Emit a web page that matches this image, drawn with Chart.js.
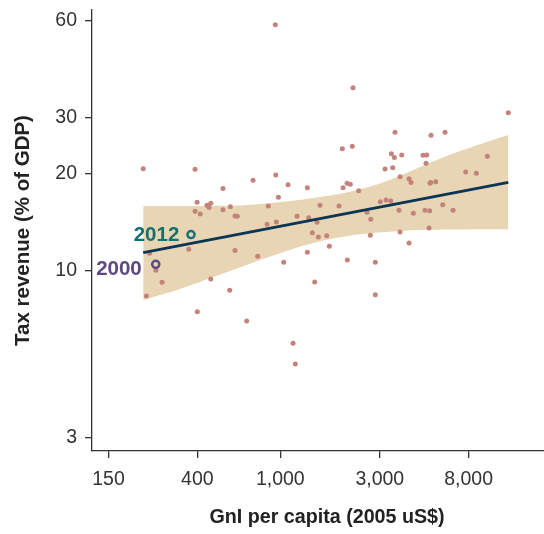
<!DOCTYPE html>
<html><head><meta charset="utf-8">
<script src="https://cdn.jsdelivr.net/npm/chart.js@4"></script>
<style>html,body{margin:0;padding:0;background:#fff}</style>
</head><body>
<canvas id="c" width="544" height="534"></canvas>
<script>
// ---- data ----
const gniPerCapita = [946,2232,12400,3549,6166,5283,1984,2214,3408,3523,3822,4834,5038,4998,9835,220,390,3179,3460,7750,8710,951,740,3751,4143,4236,5224,5263,5564,2089,2166,1089,531,1348,1999,2377,979,399,445,464,455,390,413,531,576,606,622,876,1550,1912,3017,3214,3385,3710,4345,4943,5207,6010,6735,2605,2714,1203,1368,1500,864,957,1424,1522,1669,2702,3751,5167,364,606,236,779,1348,1038,2096,2855,4143,1718,253,271,228,464,572,1462,2855,400,690,1151,1180];
const taxRevenue = [58.4,37.1,31.0,26.95,26.95,26.4,23.95,24.4,23.1,22.5,22.9,22.85,22.9,21.6,22.7,20.75,20.66,20.7,20.9,20.26,20.1,19.83,19.1,19.6,19.3,18.8,18.7,18.8,18.9,18.7,18.55,18.5,18.0,18.1,18.1,17.7,16.9,16.3,15.95,16.2,15.7,15.3,15.0,15.45,15.8,14.77,14.74,15.87,15.95,15.87,16.37,16.57,16.45,15.39,15.06,15.39,15.35,16.02,15.39,15.17,14.43,14.74,14.59,14.12,13.92,14.15,13.1,12.7,12.82,12.86,13.17,13.55,11.63,11.54,11.3,11.06,11.38,10.59,10.77,10.59,12.17,11.88,10.0,9.18,8.32,9.4,8.66,9.19,8.39,7.43,6.95,5.92,5.1];
const fitX = [220, 12400];
const fitY = [11.35, 18.8];
const bandX = [220,330,477,690,1000,1440,2240,3238,4677,6756,9770,12400];
const bandUpper = [15.87,15.87,15.87,15.98,16.33,16.81,17.68,18.99,21.01,23.14,25.14,26.44];
const bandLower = [8.08,8.74,9.53,10.39,11.32,12.17,12.89,13.17,13.36,13.41,13.43,13.43];
const highlightLabels = ['2012','2000'];
const highlightX = [373, 252.7];
const highlightY = [12.93, 10.44];
const xTicks = [150,400,1000,3000,8000];
const yTicks = [3,10,20,30,60];
const xRange = [125, 18390];
const yRange = [2.731, 64.9];
const xTitle = 'GnI per capita (2005 uS$)';
const yTitle = 'Tax revenue (% of GDP)';

// ---- styles ----
const FONT = '"Liberation Sans", Arial, Helvetica, sans-serif';
const AXIS = '#333333';
const HL_COLORS = ['#176f6e', '#5d4a80'];
const HL_OFFSETS = [[-11.7, 6.5], [-14, 10.9]];

const zip = (xs, ys) => xs.map((x, i) => ({x, y: ys[i]}));

const textPlugin = {
  id: 'texts',
  afterDraw(chart) {
    const ctx = chart.ctx, xs = chart.scales.x, ys = chart.scales.y, ca = chart.chartArea;
    ctx.save();
    ctx.font = 'bold 20.5px ' + FONT;
    ctx.textAlign = 'right';
    ctx.textBaseline = 'alphabetic';
    highlightLabels.forEach((t, i) => {
      const px = xs.getPixelForValue(highlightX[i]);
      const py = ys.getPixelForValue(highlightY[i]);
      ctx.fillStyle = HL_COLORS[i];
      ctx.fillText(t, px + HL_OFFSETS[i][0], py + HL_OFFSETS[i][1]);
    });
    // x title
    ctx.fillStyle = '#222222';
    ctx.font = 'bold 19.7px ' + FONT;
    ctx.textAlign = 'center';
    ctx.fillText(xTitle, 327, 522.7);
    // y title
    ctx.font = 'bold 20.5px ' + FONT;
    ctx.translate(28.5, (ca.top + ca.bottom) / 2);
    ctx.rotate(-Math.PI / 2);
    ctx.fillText(yTitle, 0, 0);
    ctx.restore();
  }
};

const noPad = s => { s.paddingLeft = 0; s.paddingRight = 0; s.paddingTop = 0; s.paddingBottom = 0; };

new Chart(document.getElementById('c'), {
  type: 'scatter',
  data: {
    datasets: [
      { type: 'line', data: zip(bandX, bandUpper), borderWidth: 0, pointRadius: 0, tension: 0.35,
        fill: '+1', backgroundColor: '#e8d5b3', borderColor: 'rgba(0,0,0,0)', order: 5 },
      { type: 'line', data: zip(bandX, bandLower), borderWidth: 0, pointRadius: 0, tension: 0.35,
        fill: false, borderColor: 'rgba(0,0,0,0)', order: 6 },
      { data: zip(gniPerCapita, taxRevenue), pointRadius: 2.5, pointBorderWidth: 0,
        backgroundColor: '#c4837a', borderColor: '#c4837a', order: 3 },
      { type: 'line', data: zip(fitX, fitY), borderColor: '#0b3554', borderWidth: 2.8, pointRadius: 0,
        fill: false, order: 2 },
      { data: zip(highlightX, highlightY), pointRadius: 3.6, pointBorderWidth: 2.4,
        backgroundColor: 'rgba(0,0,0,0)', borderColor: HL_COLORS, order: 1 }
    ]
  },
  options: {
    responsive: false,
    animation: false,
    devicePixelRatio: 1,
    layout: { autoPadding: false, padding: { left: 0, right: 0, top: 10, bottom: 0 } },
    plugins: { legend: { display: false }, tooltip: { enabled: false } },
    events: [],
    scales: {
      x: {
        type: 'logarithmic', min: xRange[0], max: xRange[1],
        afterBuildTicks: s => { s.ticks = xTicks.map(v => ({value: v})); },
        afterFit: s => { s.height = 83; noPad(s); },
        ticks: { font: { family: FONT, size: 19.5 }, color: '#333', padding: 10, maxRotation: 0, autoSkip: false,
          callback: v => Number(v).toLocaleString('en-US') },
        grid: { display: true, drawOnChartArea: false, drawTicks: true, tickLength: 7, color: AXIS, lineWidth: 1.3 },
        border: { display: true, color: AXIS, width: 1.3 }
      },
      y: {
        type: 'logarithmic', min: yRange[0], max: yRange[1],
        afterBuildTicks: s => { s.ticks = yTicks.map(v => ({value: v})); },
        afterFit: s => { s.width = 92; noPad(s); },
        ticks: { font: { family: FONT, size: 19.5 }, color: '#333', padding: 8, autoSkip: false,
          callback: v => String(v) },
        grid: { display: true, drawOnChartArea: false, drawTicks: true, tickLength: 7, color: AXIS, lineWidth: 1.3 },
        border: { display: true, color: AXIS, width: 1.3 }
      }
    }
  },
  plugins: [textPlugin]
});
</script>
</body></html>
